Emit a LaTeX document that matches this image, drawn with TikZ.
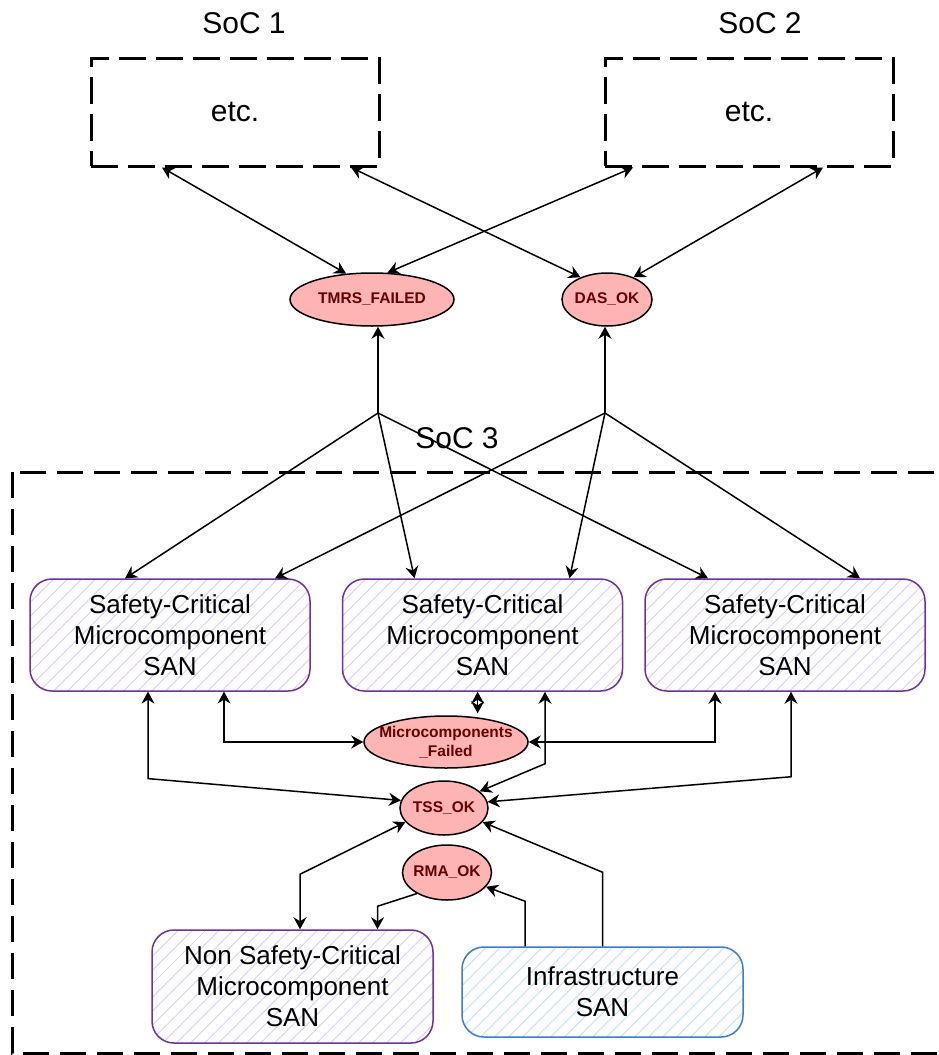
\documentclass[tikz,border=0pt]{standalone}
\usepackage{fontspec}
\setmainfont{Liberation Sans}
\usetikzlibrary{shapes.geometric,arrows.meta,patterns.meta,calc}

\definecolor{sanpurple}{RGB}{112,48,160}
\definecolor{hatchpurple}{RGB}{222,212,240}
\definecolor{infrablue}{RGB}{58,125,215}
\definecolor{hatchblue}{RGB}{205,225,248}
\definecolor{placefill}{RGB}{255,180,180}
\definecolor{placetext}{RGB}{102,0,0}

\begin{document}
\begin{tikzpicture}[x=1pt,y=-1pt,
  socbox/.style={draw, line width=3pt, dash pattern=on 27pt off 10pt,
    minimum width=288pt, minimum height=108pt, inner sep=0pt,
    font=\fontsize{30}{36}\selectfont},
  socframe/.style={line width=3pt, dash pattern=on 26pt off 11pt},
  soclabel/.style={anchor=base, inner sep=0pt, font=\fontsize{30}{36}\selectfont},
  san/.style={draw=sanpurple, line width=1.5pt, rounded corners=22pt,
    pattern={Lines[angle=45,distance=10.5pt,line width=1.2pt]},
    pattern color=hatchpurple, align=center, inner sep=0pt,
    minimum width=280pt, minimum height=112pt,
    font=\fontsize{26}{31}\selectfont},
  place/.style={ellipse, draw, line width=1.5pt, fill=placefill,
    text=placetext, align=center, inner sep=-4pt,
    font=\fontsize{15.5}{19}\bfseries\selectfont},
  link/.style={line width=1.5pt, >={Stealth[length=12pt,width=13pt,inset=4pt]}}
]
\useasboundingbox (0,0) rectangle (939,1055);
\fill[white] (0,0) rectangle (939,1055);

% SoC 1 and SoC 2 (abbreviated)
\node[soclabel] (l1) at (244,33) {SoC 1};
\node[soclabel] (l2) at (760,33) {SoC 2};
\node[socbox] (soc1) at (235,112) {etc.};
\node[socbox] (soc2) at (749,112) {etc.};

% SoC 3 frame
\draw[socframe] (12,472) rectangle (965,1053);
\node[soclabel] (l3) at (457,448) {SoC 3};

% shared places
\node[place, minimum width=164pt, minimum height=53pt] (tmrs) at (372,299.5) {TMRS\_FAILED};
\node[place, minimum width=90pt, minimum height=53pt] (das) at (607,299.5) {DAS\_OK};
\node[place, minimum width=164pt, minimum height=52pt, inner xsep=-20pt, inner ysep=-8pt] (mf) at (446,742) {Microcomponents\\\_Failed};
\node[place, minimum width=88pt, minimum height=54pt] (tss) at (444,808) {TSS\_OK};
\node[place, minimum width=89pt, minimum height=55pt] (rma) at (447,872.5) {RMA\_OK};

% SAN sub-models
\node[san] (scm1) at (170,635) {Safety-Critical\\Microcomponent\\SAN};
\node[san] (scm2) at (482.5,635) {Safety-Critical\\Microcomponent\\SAN};
\node[san] (scm3) at (785,635) {Safety-Critical\\Microcomponent\\SAN};
\node[san, minimum width=281pt, minimum height=113pt] (nsc) at (292.5,986.5) {Non Safety-Critical\\Microcomponent\\SAN};
\node[san, draw=infrablue, pattern color=hatchblue, minimum width=281pt, minimum height=90pt] (infra) at (602.5,992) {Infrastructure\\SAN};

% junctions of the fan-out links
\coordinate (jt) at (378,413);
\coordinate (jd) at (605,413);

% SoC 1 / SoC 2 to the shared places
\draw[link,<->] ([xshift=-73pt]soc1.south) -- (tmrs.135);
\draw[link,<->] ([xshift=116pt]soc1.south) -- (das.140);
\draw[link,<->] ([xshift=-116pt]soc2.south) -- (tmrs.60);
\draw[link,<->] ([xshift=74pt]soc2.south) -- (das.40);

% fan-out to the safety-critical SANs
\draw[link,->] (jt) -- (jt |- tmrs.south);
\draw[link,->] (jd) -- (jd |- das.south);
\draw[link,->] (jt) -- ([xshift=-45pt]scm1.north);
\draw[link,->] (jt) -- ([xshift=-68pt]scm2.north);
\draw[link,->] (jt) -- ([xshift=-77pt]scm3.north);
\draw[link,->] (jd) -- ([xshift=105pt]scm1.north);
\draw[link,->] (jd) -- ([xshift=87pt]scm2.north);
\draw[link,->] (jd) -- ([xshift=75pt]scm3.north);

% safety-critical SANs to TSS_OK and Microcomponents_Failed
\draw[link,<->] ([xshift=-22pt]scm1.south) -- ++(0,87) -- (tss.170);
\draw[link,<->] ([xshift=54pt]scm1.south) |- (mf.west);
\draw[link,<->] ([yshift=4pt]mf.38) -- (mf.38 |- scm2.south);
\draw[link,<->] ([xshift=62.5pt]scm2.south) -- ++(0,72) -- (tss.25);
\draw[link,<->] ([xshift=-70pt]scm3.south) |- (mf.east);
\draw[link,<->] ([xshift=6pt]scm3.south) -- ++(0,85) -- (tss.8);

% lower sub-models
\draw[link,<->] ([xshift=7.5pt]nsc.north) -- ++(0,-55) -- (tss.200);
\draw[link,->] (rma.215) -- ([xshift=85pt,yshift=23pt]nsc.north) -- ([xshift=85pt]nsc.north);
\draw[link,->] ([xshift=-77.5pt]infra.north) -- ++(0,-45) -- (rma.340);
\draw[link,->] (infra.north) -- ++(0,-74) -- (tss.340);
\end{tikzpicture}
\end{document}
